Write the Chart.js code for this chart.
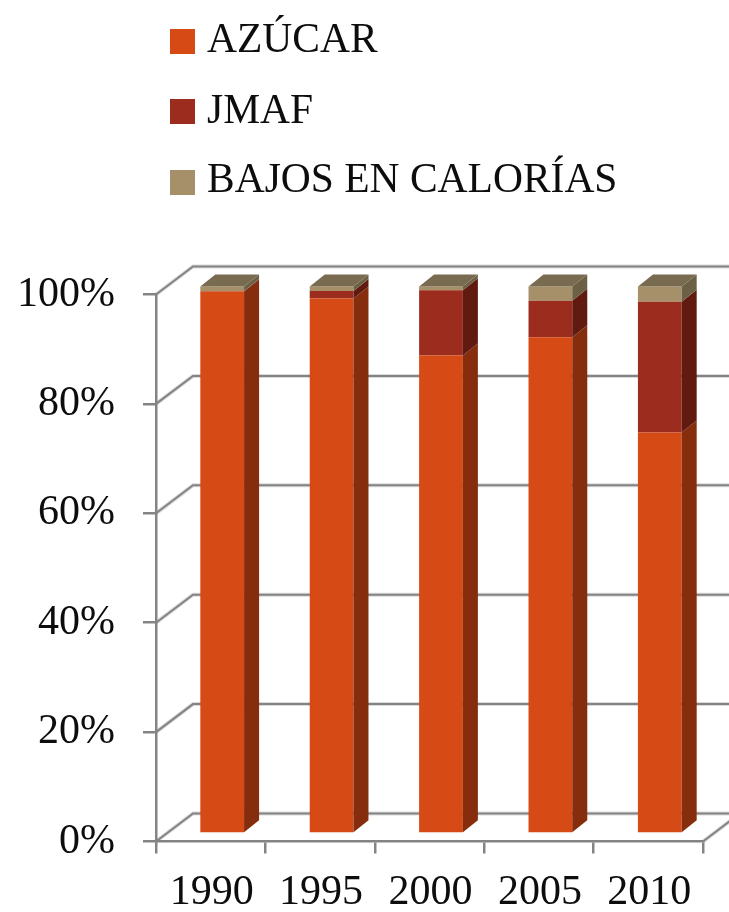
<!DOCTYPE html>
<html><head><meta charset="utf-8">
<style>html,body{margin:0;padding:0;background:#fff}#w{width:729px;height:912px;position:relative}</style>
<script src="https://cdn.jsdelivr.net/npm/chart.js@4"></script>
</head><body><div id="w"><canvas id="c" width="729" height="912"></canvas></div>
<script>
const categories = ['1990','1995','2000','2005','2010'];
const azucar = [99.1, 97.8, 87.4, 90.7, 73.3];
const jmaf = [0.1, 1.4, 11.9, 6.7, 23.9];
const bajos = [0.8, 0.8, 0.7, 2.6, 2.8];
const seriesNames = ['AZÚCAR','JMAF','BAJOS EN CALORÍAS'];
const frontColors = ['#D54A15','#9C2C1E','#A5906A'];
const sideColors = ['#852D0D','#611A10','#6C6145'];
const topColor = '#786B50';
const gridColor = '#848484';
const textColor = '#0d0d0d';
const fontFamily = '"Liberation Serif", serif';
const depth = {dx: 37, dy: -28};        // wall offset
const barShift = {dx: 11.5, dy: -8};    // bar front plane offset
const barDepth = {dx: 15, dy: -12};     // bar side depth

const threeD = {
  id: 'threeD',
  beforeDatasetsDraw(chart){
    const {ctx, scales:{x,y}, chartArea:a} = chart;
    ctx.save();
    const wall = () => {
      y.ticks.forEach(t => {
        const py = y.getPixelForValue(t.value);
        ctx.beginPath();
        ctx.moveTo(a.left, py);
        ctx.lineTo(a.left + depth.dx, py + depth.dy);
        ctx.lineTo(chart.width + 10, py + depth.dy);
        ctx.stroke();
      });
      ctx.beginPath();
      ctx.moveTo(a.right, a.bottom);
      ctx.lineTo(a.right + depth.dx, a.bottom + depth.dy);
      ctx.stroke();
    };
    ctx.strokeStyle = 'rgba(132,132,132,0.3)'; ctx.lineWidth = 4; wall();
    ctx.strokeStyle = gridColor; ctx.lineWidth = 2; wall();
    ctx.restore();
    ctx.save();
    ctx.translate(barShift.dx, barShift.dy);
  },
  afterDatasetsDraw(chart){
    const {ctx} = chart;
    const n = chart.data.datasets.length;
    const poly = (pts, fill) => {
      ctx.beginPath();
      pts.forEach((p,i) => i ? ctx.lineTo(p[0],p[1]) : ctx.moveTo(p[0],p[1]));
      ctx.closePath(); ctx.fillStyle = fill; ctx.fill();
    };
    for (let d = 0; d < n; d++) {
      chart.getDatasetMeta(d).data.forEach(b => {
        const r = b.x + b.width/2, l = b.x - b.width/2;
        poly([[r,b.y],[r+barDepth.dx,b.y+barDepth.dy],[r+barDepth.dx,b.base+barDepth.dy],[r,b.base]], sideColors[d]);
        if (d === n-1) poly([[l,b.y],[l+barDepth.dx,b.y+barDepth.dy],[r+barDepth.dx,b.y+barDepth.dy],[r,b.y]], topColor);
      });
    }
    ctx.restore();
  },
  afterDraw(chart){
    const {ctx} = chart;
    ctx.save();
    ctx.font = '41.5px ' + fontFamily;
    ctx.textBaseline = 'alphabetic'; ctx.textAlign = 'left';
    const baselines = [52, 123, 192];
    const swatches = [29, 99, 170];
    chart.data.datasets.forEach((ds,i) => {
      ctx.fillStyle = ds.backgroundColor;
      ctx.fillRect(170, swatches[i], 25, 25);
      ctx.fillStyle = textColor;
      ctx.fillText(ds.label, 207, baselines[i]);
    });
    ctx.restore();
  }
};

new Chart(document.getElementById('c'), {
  type: 'bar',
  data: { labels: categories, datasets: [
    {label: seriesNames[0], data: azucar, backgroundColor: frontColors[0]},
    {label: seriesNames[1], data: jmaf, backgroundColor: frontColors[1]},
    {label: seriesNames[2], data: bajos, backgroundColor: frontColors[2]},
  ].map(d => ({...d, clip: false, borderWidth: 0, barPercentage: 0.8, categoryPercentage: 0.5}))},
  options: {
    responsive: false, animation: false,
    layout: {padding: {left: 0, right: 26, top: 294.5, bottom: 0}},
    plugins: {legend: {display: false}, tooltip: {enabled: false}, title: {display: false}},
    scales: {
      x: {
        stacked: true,
        afterFit: s => { s.height = 70.5; },
        grid: {drawOnChartArea: false, drawTicks: true, tickLength: 12, color: gridColor, lineWidth: 2.5},
        border: {color: gridColor, width: 2.5},
        ticks: {color: textColor, font: {family: fontFamily, size: 42}, padding: 14, labelOffset: 1, maxRotation: 0, autoSkip: false}
      },
      y: {
        stacked: true, min: 0, max: 100,
        afterFit: s => { s.width = 156; },
        grid: {drawOnChartArea: false, drawTicks: true, tickLength: 13, color: gridColor, lineWidth: 2.5},
        border: {color: gridColor, width: 2.5},
        ticks: {stepSize: 20, color: textColor, font: {family: fontFamily, size: 42}, padding: 28, callback: v => v + '%'}
      }
    }
  },
  plugins: [threeD]
});
</script></body></html>
